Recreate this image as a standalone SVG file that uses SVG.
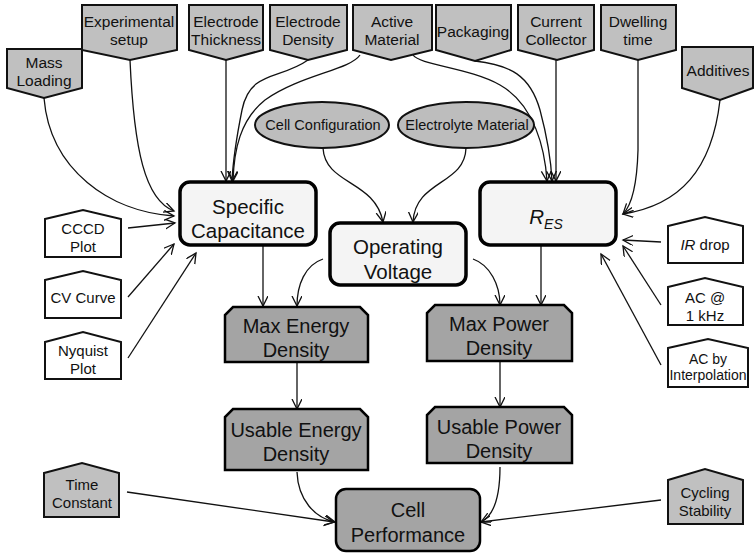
<svg xmlns="http://www.w3.org/2000/svg" width="755" height="554" viewBox="0 0 755 554">
<style>
text{font-family:"Liberation Sans",Arial,sans-serif;fill:#111;text-anchor:middle}
.top{fill:#c0c0c0;stroke:#111;stroke-width:2}
.ell{fill:#bdbdbd;stroke:#111;stroke-width:2}
.inp{fill:#fff;stroke:#111;stroke-width:2}
.inpg{fill:#c0c0c0;stroke:#111;stroke-width:2}
.main{fill:#f4f4f4;stroke:#000;stroke-width:3.5}
.dark{fill:#a4a4a4;stroke:#000;stroke-width:2.5}
.t15{font-size:15.5px}
.t14{font-size:15px}
.te{font-size:14.5px}
.t13{font-size:14px}
.t20{font-size:20.5px}
.t19{font-size:20px}
#connectors path{fill:none;stroke:#111;stroke-width:1.3;marker-end:url(#arr)}
</style>
<defs>
<marker id="arr" markerUnits="userSpaceOnUse" markerWidth="12" markerHeight="12" viewBox="0 0 12 12" refX="10" refY="5" orient="auto">
<path d="M0,0 L10,5 L0,10" fill="none" stroke="#111" stroke-width="1.3"/>
</marker>
</defs>
<rect width="755" height="554" fill="#fff"/>

<g id="connectors">
<path d="M44,98 C50,170 110,212 174,216"/>
<path d="M130,60 C134,150 145,200 174,211"/>
<path d="M128,228 L175,223"/>
<path d="M128,297 L174,244"/>
<path d="M128,358 L196,253"/>
<path d="M226,60 L226,181"/>
<path d="M308,60 C280,80 250,70 242,110 C236,140 233,160 232,181"/>
<path d="M360,55 C350,70 300,75 265,100 C240,120 234,150 233,181"/>
<path d="M413,55 C420,65 470,68 500,85 C535,105 545,150 547,181"/>
<path d="M475,61 C510,65 530,75 540,110 C548,140 551,160 552,181"/>
<path d="M556,60 L556,181"/>
<path d="M638,60 L638,150 C637,185 632,205 623,214"/>
<path d="M720,100 C712,170 680,205 623,214"/>
<path d="M661,242 L623,240"/>
<path d="M661,305 L623,246"/>
<path d="M661,365 L601,254"/>
<path d="M323,148 C325,185 375,180 383,222"/>
<path d="M466,148 C465,185 415,180 413,222"/>
<path d="M263,245 L263,306"/>
<path d="M323,259 C305,265 297,285 297,306"/>
<path d="M473,259 C490,265 500,285 500,305"/>
<path d="M541,245 L541,305"/>
<path d="M297,362 L297,409"/>
<path d="M500,361 L500,407"/>
<path d="M297,472 C298,500 315,518 335,522"/>
<path d="M500,467 C500,495 495,515 481,522"/>
<path d="M127,492 L334,522"/>
<path d="M661,500 L481,522"/>
</g>

<g id="mass-loading"><path class="top" d="M7,49 H82 V88 L44,98 L7,88 Z"/><text class="t15" x="44" y="68">Mass</text><text class="t15" x="44" y="86">Loading</text></g>
<g id="experimental-setup"><path class="top" d="M82,5 H177 V50 L130,60 L82,50 Z"/><text class="t15" x="129" y="27">Experimental</text><text class="t15" x="129" y="45">setup</text></g>
<g id="electrode-thickness"><path class="top" d="M189,5 H263 V50 L226,60 L189,50 Z"/><text class="t15" x="226" y="27">Electrode</text><text class="t15" x="226" y="45">Thickness</text></g>
<g id="electrode-density"><path class="top" d="M270,5 H347 V50 L308,60 L270,50 Z"/><text class="t15" x="308" y="27">Electrode</text><text class="t15" x="308" y="45">Density</text></g>
<g id="active-material"><path class="top" d="M353,5 H432 V50 L391,60 L353,50 Z"/><text class="t15" x="392" y="27">Active</text><text class="t15" x="392" y="45">Material</text></g>
<g id="packaging"><path class="top" d="M436,5 H511 V50 L475,61 L436,50 Z"/><text class="t15" x="473" y="37">Packaging</text></g>
<g id="current-collector"><path class="top" d="M518,5 H594 V50 L557,60 L518,50 Z"/><text class="t15" x="556" y="27">Current</text><text class="t15" x="556" y="45">Collector</text></g>
<g id="dwelling-time"><path class="top" d="M601,5 H676 V50 L638,60 L601,50 Z"/><text class="t15" x="638" y="27">Dwelling</text><text class="t15" x="638" y="45">time</text></g>
<g id="additives"><path class="top" d="M682,47 H753 V88 L720,100 L682,88 Z"/><text class="t15" x="718" y="76">Additives</text></g>

<g id="cell-configuration"><ellipse class="ell" cx="322" cy="125" rx="67" ry="23"/><text class="te" x="323" y="130">Cell Configuration</text></g>
<g id="electrolyte-material"><ellipse class="ell" cx="466" cy="125" rx="68" ry="23"/><text class="te" x="467" y="130">Electrolyte Material</text></g>

<g id="specific-capacitance"><rect class="main" x="180" y="182" width="136" height="63" rx="10"/><text class="t20" x="248" y="214">Specific</text><text class="t20" x="248" y="238">Capacitance</text></g>
<g id="res"><rect class="main" x="480" y="182" width="136" height="63" rx="10"/><text class="t20" x="546" y="224" font-style="italic">R<tspan font-size="14" dy="5">ES</tspan></text></g>
<g id="operating-voltage"><rect class="main" x="330" y="223" width="136" height="62" rx="10"/><text class="t20" x="398" y="254">Operating</text><text class="t20" x="398" y="279">Voltage</text></g>

<g id="max-energy-density"><path class="dark" d="M233,307 H360 L368,315 V362 H225 V315 Z"/><text class="t19" x="296" y="333">Max Energy</text><text class="t19" x="296" y="357">Density</text></g>
<g id="max-power-density"><path class="dark" d="M435,305 H564 L572,313 V361 H427 V313 Z"/><text class="t19" x="499" y="331">Max Power</text><text class="t19" x="499" y="355">Density</text></g>
<g id="usable-energy-density"><path class="dark" d="M233,409 H360 L368,417 V470 H225 V417 Z"/><text class="t19" x="296" y="437">Usable Energy</text><text class="t19" x="296" y="461">Density</text></g>
<g id="usable-power-density"><path class="dark" d="M435,407 H564 L572,415 V463 H427 V415 Z"/><text class="t19" x="499" y="434">Usable Power</text><text class="t19" x="499" y="458">Density</text></g>
<g id="cell-performance"><rect class="dark" x="336" y="489" width="144" height="62" rx="10"/><text class="t19" x="408" y="517">Cell</text><text class="t19" x="408" y="542">Performance</text></g>

<g id="cccd-plot"><path class="inp" d="M45,219 L83,210 L121,219 V257 H45 Z"/><text class="t14" x="83" y="234">CCCD</text><text class="t14" x="83" y="252">Plot</text></g>
<g id="cv-curve"><path class="inp" d="M45,280 L83,271 L121,280 V318 H45 Z"/><text class="t14" x="83" y="303">CV Curve</text></g>
<g id="nyquist-plot"><path class="inp" d="M45,342 L83,332 L121,342 V379 H45 Z"/><text class="t14" x="83" y="356">Nyquist</text><text class="t14" x="83" y="374">Plot</text></g>
<g id="time-constant"><path class="inpg" d="M44,473 L82,463 L119,473 V517 H44 Z"/><text class="t14" x="82" y="490">Time</text><text class="t14" x="82" y="508">Constant</text></g>

<g id="ir-drop"><path class="inp" d="M668,226 L705,217 L743,226 V263 H668 Z"/><text class="t14" x="705" y="250"><tspan font-style="italic">IR</tspan> drop</text></g>
<g id="ac-1khz"><path class="inp" d="M668,287 L705,278 L743,287 V325 H668 Z"/><text class="t14" x="705" y="303">AC @</text><text class="t14" x="705" y="321">1 kHz</text></g>
<g id="ac-interpolation"><path class="inp" d="M668,348 L708,339 L748,348 V387 H668 Z"/><text class="t13" x="708" y="364">AC by</text><text class="t13" x="708" y="380">Interpolation</text></g>
<g id="cycling-stability"><path class="inpg" d="M668,480 L705,469 L743,480 V524 H668 Z"/><text class="t14" x="705" y="498">Cycling</text><text class="t14" x="705" y="516">Stability</text></g>
</svg>
